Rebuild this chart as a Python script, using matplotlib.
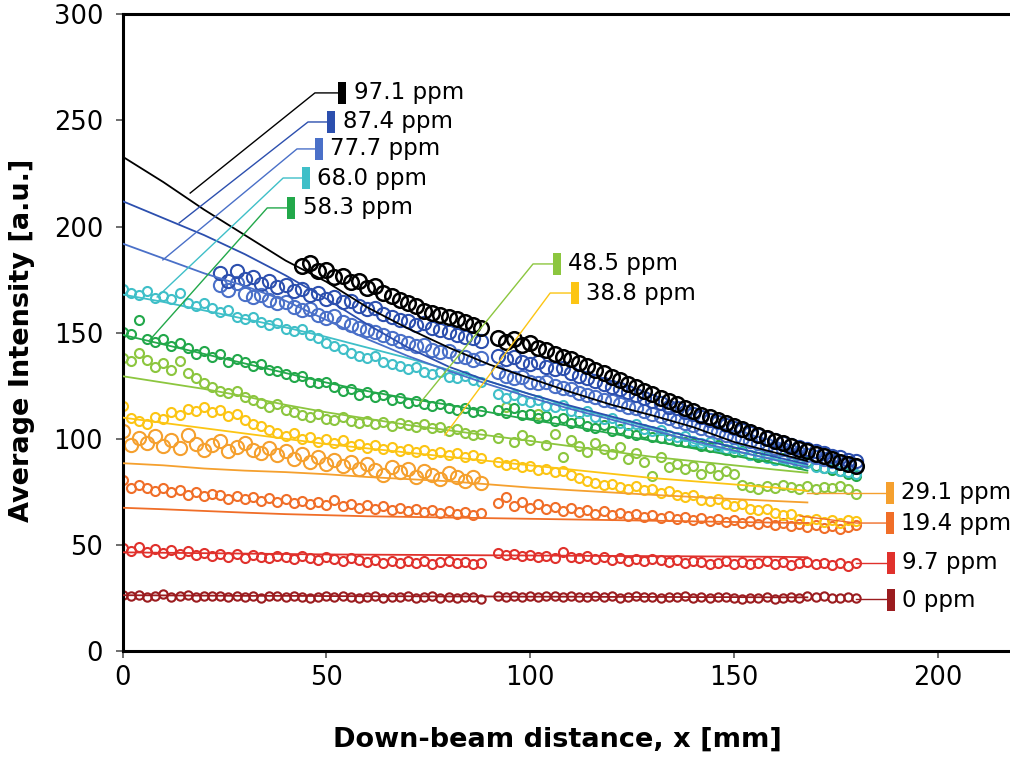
"""Average intensity vs down-beam distance for several concentrations."""

import matplotlib
matplotlib.use("Agg")
import matplotlib.pyplot as plt
from matplotlib.patches import Rectangle

# ---- data ------------------------------------------------------------------
CONC_LABELS = ["0 ppm", "9.7 ppm", "19.4 ppm", "29.1 ppm", "38.8 ppm", "48.5 ppm",
               "58.3 ppm", "68.0 ppm", "77.7 ppm", "87.4 ppm", "97.1 ppm"]

# sample positions (mm): near segment and far segment
X_A = [0, 2, 4, 6, 8, 10, 12, 14, 16, 18, 20, 22, 24, 26, 28, 30, 32, 34, 36, 38, 40, 42,
       44, 46, 48, 50, 52, 54, 56, 58, 60, 62, 64, 66, 68, 70, 72, 74, 76, 78, 80, 82, 84,
       86, 88]
X_B = [92, 94, 96, 98, 100, 102, 104, 106, 108, 110, 112, 114, 116, 118, 120, 122, 124, 126,
       128, 130, 132, 134, 136, 138, 140, 142, 144, 146, 148, 150, 152, 154, 156, 158, 160,
       162, 164, 166, 168, 170, 172, 174, 176, 178, 180]

Y0_A = [26.5, 25.8, 26.2, 25.5, 26.0, 26.8, 25.6, 25.9, 26.3, 25.4, 25.8, 26.1, 25.7, 25.3,
        26.0, 25.6, 25.9, 25.2, 25.7, 26.0, 25.4, 25.8, 25.5, 25.1, 25.6, 25.9, 25.3, 25.7,
        25.4, 25.0, 25.5, 25.8, 25.2, 25.6, 25.3, 25.7, 25.1, 25.4, 25.8, 25.2, 25.5, 25.0,
        25.3, 25.6, 24.6]
Y0_B = [26.0, 25.6, 25.9, 25.5, 25.8, 25.4, 25.7, 26.1, 25.5, 25.8, 25.3, 25.6, 25.9, 25.4,
        25.7, 25.2, 25.6, 25.8, 25.3, 25.5, 25.1, 25.6, 25.4, 25.8, 25.2, 25.5, 24.8, 25.3,
        25.6, 25.0, 24.6, 25.2, 24.9, 25.4, 24.7, 25.1, 25.6, 25.0, 26.0, 25.4, 26.0, 25.2,
        24.8, 25.3, 24.9]

Y9_A = [48.5, 47.2, 49.0, 46.8, 48.1, 46.2, 47.5, 45.6, 46.9, 45.1, 46.4, 44.8, 45.9, 44.2,
        45.6, 43.9, 45.2, 44.5, 43.6, 45.0, 44.1, 43.4, 44.7, 43.8, 42.9, 44.2, 43.5, 42.6,
        43.9, 43.0, 41.9, 42.8, 41.6, 42.5, 41.3, 42.2, 41.6, 42.4, 41.2, 41.9, 42.6, 41.4,
        42.1, 41.0, 41.7]
Y9_B = [46.3, 45.2, 45.8, 44.7, 45.4, 44.3, 45.0, 44.0, 46.6, 44.5, 43.6, 44.8, 43.3, 44.1,
        43.0, 43.8, 42.6, 43.4, 42.2, 43.5, 42.8, 41.9, 42.7, 41.6, 42.5, 41.8, 40.9, 41.7,
        42.4, 41.2, 41.9, 40.8, 41.5, 42.3, 41.1, 41.8, 40.7, 41.4, 42.0, 41.2, 41.6, 40.6,
        41.3, 40.2, 41.4]

Y19_A = [80.5, 76.8, 78.2, 77.0, 75.6, 76.9, 74.8, 75.9, 73.6, 74.7, 72.9, 74.1, 73.3, 71.8,
         72.9, 71.5, 72.6, 70.8, 71.9, 70.3, 71.4, 69.6, 70.7, 69.2, 70.4, 68.6, 71.3, 68.2,
         69.5, 67.6, 68.7, 66.9, 68.1, 66.5, 67.6, 65.8, 66.9, 65.3, 66.4, 64.9, 66.0, 64.5,
         65.4, 63.9, 64.8]
Y19_B = [69.8, 72.6, 68.5, 70.3, 67.6, 69.1, 66.8, 68.0, 65.9, 67.2, 65.3, 66.4, 64.6, 65.8,
         64.1, 65.2, 63.6, 64.7, 63.1, 64.2, 62.6, 63.8, 62.1, 63.3, 61.7, 62.8, 61.2, 62.3,
         60.8, 61.9, 60.3, 61.4, 59.8, 60.9, 59.4, 60.5, 58.9, 59.9, 58.4, 59.5, 57.9, 58.8,
         57.3, 58.4, 59.6]

Y29_A = [103.8, 96.9, 100.2, 97.8, 101.1, 96.7, 99.3, 95.8, 102.0, 97.6, 94.9, 97.2, 99.1,
         94.2, 96.3, 97.8, 94.6, 93.1, 95.7, 92.2, 94.1, 90.3, 92.8, 89.2, 91.3, 88.1, 90.2,
         87.0, 89.3, 85.9, 88.1, 85.2, 83.1, 86.8, 84.2, 85.9, 82.1, 84.8, 83.0, 81.2, 83.9,
         82.1, 80.2, 81.8, 79.1]

Y38_A = [115.5, 109.8, 108.2, 106.9, 110.4, 109.1, 112.6, 111.3, 114.2, 113.0, 115.1, 112.4,
         113.8, 110.6, 111.9, 108.7, 107.2, 105.9, 104.1, 102.8, 101.5, 102.9, 99.8, 101.0,
         98.6, 99.7, 97.9, 99.2, 96.8, 97.7, 95.9, 97.1, 95.2, 96.3, 94.1, 95.4, 93.6, 94.8,
         92.9, 94.0, 92.2, 93.3, 91.5, 92.6, 90.8]
Y38_B = [89.0, 87.6, 88.3, 86.5, 87.2, 85.4, 86.0, 84.3, 84.9, 83.1, 81.6, 80.2, 79.4, 78.0,
         78.7, 77.1, 76.3, 77.6, 75.8, 76.4, 74.6, 75.2, 73.4, 72.6, 73.5, 71.2, 70.6, 71.5,
         69.3, 68.5, 69.4, 67.1, 66.3, 67.0, 64.8, 63.9, 64.6, 62.4, 61.5, 62.3, 60.9, 61.8,
         60.4, 61.9, 61.3]

Y48_A = [138.0, 136.5, 140.2, 137.1, 133.8, 135.6, 132.4, 136.8, 131.0, 128.7, 126.1, 124.3,
         122.6, 121.4, 122.3, 119.8, 118.1, 116.9, 115.2, 116.4, 113.5, 112.7, 111.1, 110.5,
         111.6, 109.4, 108.8, 110.1, 108.2, 107.4, 108.6, 106.9, 107.8, 106.1, 107.3, 106.5,
         105.6, 106.8, 104.9, 105.7, 103.8, 104.6, 102.9, 101.7, 102.4]
Y48_B = [100.2, 114.8, 98.7, 101.6, 99.5, 111.6, 97.1, 102.4, 91.3, 99.2, 96.5, 93.8, 98.1,
         95.4, 92.7, 96.2, 90.4, 93.1, 88.9, 82.4, 91.6, 86.8, 88.2, 85.9, 87.3, 83.6, 86.1,
         82.9, 84.7, 83.4, 78.2, 77.1, 76.4, 77.6, 76.8, 78.1, 77.3, 76.5, 77.7, 76.2, 77.4,
         76.7, 77.9, 76.3, 73.8]

Y58_A = [150.5, 149.2, 156.0, 147.1, 145.6, 146.8, 143.9, 145.2, 142.6, 140.1, 141.5, 138.7,
         139.9, 136.2, 137.4, 136.0, 134.2, 135.1, 132.6, 131.8, 130.5, 129.1, 129.8, 127.0,
         126.1, 126.9, 124.3, 122.4, 123.5, 120.8, 121.9, 119.6, 120.7, 118.3, 119.2, 117.1,
         118.0, 116.2, 115.4, 116.5, 114.3, 113.6, 114.7, 112.4, 113.2]
Y58_B = [113.5, 112.1, 114.6, 111.0, 111.8, 109.7, 110.9, 108.5, 109.6, 107.3, 108.2, 106.1,
         105.3, 106.4, 103.9, 104.8, 102.5, 101.6, 102.7, 100.9, 100.2, 99.8, 99.1, 98.6,
         98.2, 96.8, 96.1, 96.9, 94.6, 93.8, 94.4, 92.3, 91.5, 92.0, 90.1, 90.8, 89.2, 88.4,
         88.9, 87.1, 86.2, 85.5, 84.8, 83.6, 82.3]

Y68_A = [170.5, 168.9, 167.6, 169.8, 166.4, 167.5, 165.9, 168.7, 164.2, 162.8, 163.9, 161.5,
         159.8, 160.9, 157.6, 156.3, 157.4, 154.9, 153.6, 154.5, 151.8, 150.6, 151.7, 148.9,
         147.6, 145.2, 143.6, 142.1, 140.3, 139.2, 137.9, 138.8, 136.2, 135.4, 134.1, 132.8,
         133.7, 131.5, 130.6, 131.4, 129.2, 128.5, 129.4, 127.6, 126.9]
Y68_B = [121.0, 119.4, 120.6, 118.1, 117.3, 118.2, 115.6, 114.8, 115.7, 113.2, 112.1, 112.9,
         110.4, 109.2, 109.9, 107.5, 106.3, 106.9, 104.6, 103.5, 104.1, 101.8, 100.7, 101.2,
         98.9, 97.8, 98.3, 96.2, 95.1, 95.6, 93.6, 92.5, 93.0, 91.1, 90.2, 90.6, 88.9, 88.0,
         88.5, 86.8, 86.1, 86.4, 84.9, 84.3, 83.2]

# blue series start at x = 24 mm (X_A[12:]), black at x = 44 mm (X_A[22:])
Y77_A = [172.5, 170.1, 173.4, 168.2, 166.9, 168.0, 165.2, 163.8, 164.6, 161.9, 160.5, 161.3,
         158.4, 157.0, 157.8, 154.9, 153.6, 152.2, 151.5, 150.1, 148.8, 147.4, 146.0, 145.1,
         143.7, 144.3, 142.0, 140.8, 141.3, 139.2, 138.4, 137.1, 137.9]
Y77_B = [131.4, 129.8, 128.5, 129.2, 127.0, 126.3, 126.9, 124.7, 124.1, 123.5, 121.8, 120.6,
         119.9, 118.4, 117.8, 116.2, 115.1, 114.3, 112.9, 111.8, 110.6, 109.9, 108.4, 107.5,
         106.7, 105.2, 104.1, 103.3, 101.9, 101.0, 100.2, 98.8, 97.9, 97.1, 95.9, 95.0, 94.2,
         93.1, 92.3, 91.4, 90.6, 89.7, 88.9, 88.1, 87.3]

Y87_A = [178.0, 174.5, 179.2, 175.1, 176.3, 173.0, 174.2, 171.4, 172.3, 169.6, 170.4, 167.9,
         168.6, 166.1, 166.8, 164.4, 165.0, 162.6, 161.1, 161.8, 158.9, 157.5, 156.2, 155.4,
         153.8, 154.5, 152.1, 151.2, 150.3, 149.0, 148.2, 147.5, 146.1]
Y87_B = [139.2, 137.5, 138.6, 136.1, 135.4, 136.3, 133.7, 132.9, 133.6, 130.8, 129.4, 128.6,
         127.1, 125.8, 124.3, 123.6, 121.9, 120.7, 119.3, 117.6, 116.8, 115.2, 114.3, 112.6,
         111.5, 110.4, 108.9, 107.8, 106.5, 105.2, 104.3, 102.8, 101.9, 100.4, 99.3, 98.2,
         97.1, 96.3, 95.0, 94.2, 93.1, 92.0, 91.3, 90.2, 89.6]

Y97_A = [181.2, 183.0, 178.9, 179.6, 176.1, 176.8, 173.9, 174.4, 171.2, 171.8, 168.7, 167.3,
         165.2, 164.0, 162.6, 160.3, 159.1, 158.4, 157.2, 156.3, 154.9, 153.6, 152.2]
Y97_B = [147.5, 145.8, 146.9, 144.2, 145.1, 142.6, 141.8, 139.9, 138.7, 137.6, 135.9, 134.1,
         132.4, 130.9, 129.3, 127.6, 125.8, 124.4, 122.6, 121.3, 119.1, 117.8, 116.2, 114.6,
         113.1, 111.4, 110.2, 108.7, 107.6, 106.1, 104.8, 103.2, 101.9, 100.6, 99.1, 97.8,
         96.6, 95.3, 94.1, 92.8, 91.7, 90.4, 89.3, 88.1, 87.2]

# fitted curves
LINE_X = [0, 10, 20, 30, 40, 50, 60, 70, 80, 90, 100, 110, 120, 130, 140, 150, 160, 168]
FIT_0 = [26.3, 26.2, 26.1, 26.0, 26.0, 25.9, 25.8, 25.8, 25.7, 25.7, 25.6, 25.6, 25.5, 25.5,
         25.4, 25.4, 25.3, 25.3]
FIT_9 = [46.5, 46.3, 46.1, 45.9, 45.7, 45.5, 45.4, 45.3, 45.2, 45.1, 45.0, 44.9, 44.8, 44.7,
         44.6, 44.5, 44.4, 44.2]
FIT_19 = [67.5, 66.8, 66, 65.2, 64.5, 64, 63.5, 63.2, 62.9, 62.6, 62.3, 62, 61.7, 61.4, 61.1,
          60.8, 60.5, 60.3]
FIT_29 = [88.5, 87.5, 86, 85, 84.3, 83.3, 82, 81, 80, 78.5, 77, 75.8, 74.7, 73.6, 72.6, 71.6,
          70.7, 70]
FIT_38 = [110, 107.5, 105, 102.5, 100, 97.5, 95.5, 93.5, 91.5, 89.5, 87.5, 85.5, 83.5, 81.5,
          80, 78.5, 77, 75.5]
FIT_48 = [129.5, 126.5, 123.5, 120, 116, 112.5, 109.5, 106.5, 104, 101.5, 99, 96.5, 94, 91.5,
          89.5, 87.5, 85.5, 84]
FIT_58 = [149, 144.5, 140, 135.5, 131, 126.5, 122.5, 119, 116, 112.5, 109, 106, 102.5, 99,
          95.5, 92, 88.5, 85]
FIT_68 = [168, 164.5, 160.5, 156.5, 152.5, 148, 143, 138, 132.5, 127, 121, 115, 110, 105, 98,
          94, 90.5, 87.5]
FIT_77 = [192, 185, 178, 172, 165, 156, 147, 139, 132, 125.5, 119.5, 114, 109, 104, 99, 94.5,
          90, 86.5]
FIT_87 = [212, 204, 196, 187, 177, 166, 154, 143, 134, 127, 121, 115.5, 110.5, 105.5, 100.5,
          96, 91.5, 88]
FIT_97 = [233, 221, 208, 196, 184, 174, 162, 152, 143, 135, 128.5, 122, 116, 111, 105.5, 98.5,
          93.5, 89.5]

COLORS = ["#9b1c1f", "#e0312c", "#f06e28", "#f5a02e", "#fcc514", "#8cc63f",
          "#22a84a", "#3fbfc8", "#4a70c8", "#2c4fae", "#000000"]

# (near segment, far segment, fit, marker size)
SERIES = [
    ((X_A, Y0_A), (X_B, Y0_B), FIT_0, 6.0),
    ((X_A, Y9_A), (X_B, Y9_B), FIT_9, 6.5),
    ((X_A, Y19_A), (X_B, Y19_B), FIT_19, 6.5),
    ((X_A, Y29_A), None, FIT_29, 9.5),
    ((X_A, Y38_A), (X_B, Y38_B), FIT_38, 6.5),
    ((X_A, Y48_A), (X_B, Y48_B), FIT_48, 6.5),
    ((X_A, Y58_A), (X_B, Y58_B), FIT_58, 6.5),
    ((X_A, Y68_A), (X_B, Y68_B), FIT_68, 6.5),
    ((X_A[12:], Y77_A), (X_B, Y77_B), FIT_77, 9.5),
    ((X_A[12:], Y87_A), (X_B, Y87_B), FIT_87, 9.5),
    ((X_A[22:], Y97_A), (X_B, Y97_B), FIT_97, 10.5),
]

# callout layout: leader path (x, y) and tag position (x, y)
CALLOUTS = [
    ([180, 187.5], [24.3, 24.3], (187.5, 24.0)),
    ([180, 187.5], [41.5, 41.5], (187.5, 41.5)),
    ([166.2, 180, 187.2], [63.6, 60.3, 60.3], (187.2, 60.3)),
    ([168, 187.2], [74.6, 74.6], (187.2, 74.6)),
    ([79.1, 104.9, 110.0], [101.8, 168.7, 168.7], (110.0, 168.7)),
    ([73.0, 100.7, 105.6], [116.9, 182.4, 182.4], (105.6, 182.4)),
    ([6.7, 35.5, 40.4], [146.6, 208.8, 208.8], (40.4, 208.8)),
    ([8.5, 39.4, 44.0], [166.8, 222.9, 222.9], (44.0, 222.9)),
    ([9.9, 42.8, 47.2], [184.3, 236.6, 236.6], (47.2, 236.6)),
    ([13.9, 45.5, 50.2], [201.7, 249.3, 249.3], (50.2, 249.3)),
    ([16.6, 47.2, 52.9], [215.8, 263.0, 263.0], (52.9, 263.0)),
]

# ---- figure ----------------------------------------------------------------
plt.rcParams["font.family"] = ["DejaVu Sans"]

W, H = 1010, 758
fig = plt.figure(figsize=(W / 100, H / 100), dpi=100)
ax = fig.add_axes([122.5 / W, 107 / H, (W - 122.5) / W, (651 - 14.4) / H])

for color, (seg_a, seg_b, fit, ms) in zip(COLORS, SERIES):
    mew = 1.8 if color == "#000000" else 1.5
    for seg in (seg_a, seg_b):
        if seg is None:
            continue
        ax.plot(seg[0], seg[1], linestyle="none", marker="o", ms=ms, mfc="none",
                mec=color, mew=mew, zorder=2)

for color, (seg_a, seg_b, fit, ms) in zip(COLORS, SERIES):
    ax.plot(LINE_X, fit, color=color, lw=1.3, zorder=3)

for color, label, (px, py, (bx, by)) in zip(COLORS, CONC_LABELS, CALLOUTS):
    ax.plot(px, py, color=color, lw=1.0, zorder=4, clip_on=False)
    ax.add_patch(Rectangle((bx, by - 5.2), 2.0, 10.4, facecolor=color, edgecolor="none",
                           zorder=5, clip_on=False))
    ax.text(bx + 3.8, by, label, fontsize=16.5, va="center", ha="left", zorder=5)

ax.set_xlim(0, 217.7)
ax.set_ylim(0, 300)
ax.set_xticks([0, 50, 100, 150, 200])
ax.set_yticks([0, 50, 100, 150, 200, 250, 300])
ax.tick_params(axis="both", labelsize=18.5, length=5, width=1.2, color="#555555")
ax.tick_params(axis="y", pad=9)
ax.tick_params(axis="x", pad=5)
for side in ("left", "bottom", "top"):
    ax.spines[side].set_linewidth(2.2)
ax.spines["right"].set_visible(False)

fig.text(22 / W, 1 - 340 / H, "Average Intensity [a.u.]", rotation=90, ha="center",
         va="center", fontsize=19.5, fontweight="bold")
fig.text(557 / W, 1 - 740 / H, "Down-beam distance, x [mm]", ha="center", va="center",
         fontsize=19.5, fontweight="bold")

fig.savefig("out.png", dpi=100)
plt.close(fig)
